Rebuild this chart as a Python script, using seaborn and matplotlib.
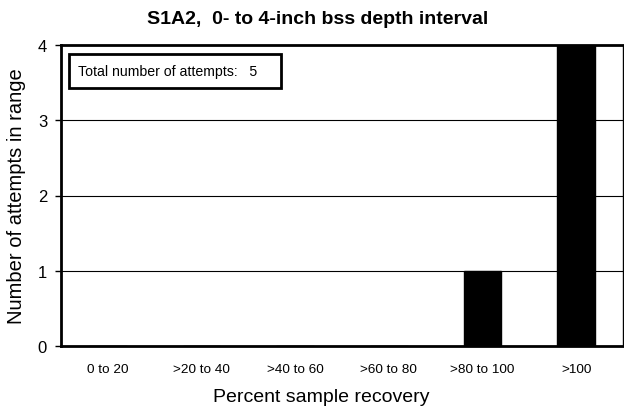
import matplotlib
matplotlib.use("Agg")
import matplotlib.pyplot as plt
from matplotlib.patches import Rectangle
import seaborn as sns
import pandas as pd
import numpy as np

categories = ["0 to 20", ">20 to 40", ">40 to 60", ">60 to 80", ">80 to 100", ">100"]
counts = [0, 0, 0, 0, 1, 4]
title = "S1A2,  0- to 4-inch bss depth interval"
total_text = "Total number of attempts:   5"

sns.set_style("white")
plt.rcParams['font.family'] = ['Liberation Sans', 'DejaVu Sans']
plt.rcParams['text.color'] = 'black'
plt.rcParams['axes.labelcolor'] = 'black'
plt.rcParams['xtick.color'] = 'black'
plt.rcParams['ytick.color'] = 'black'

df = pd.DataFrame({"cat": categories, "n": counts})

W, H = 624, 414
fig = plt.figure(figsize=(6.24, 4.14), dpi=100)
ax = fig.add_axes([61/W, 67/H, (623-61)/W, (347-46)/H])

for yv in [1, 2, 3]:
    ax.axhline(yv, color="black", lw=0.8, zorder=0)

sns.barplot(data=df, x="cat", y="n", color="black", width=0.4, saturation=1, ax=ax, zorder=2)
for p in ax.patches:
    p.set_edgecolor("black")

ax.set_xlim(-0.5, 5.5)
ax.set_ylim(0, 4)
ax.set_yticks([0, 1, 2, 3, 4])
ax.set_yticklabels(["0", "1", "2", "3", "4"], fontsize=12)
ax.set_xticks(range(len(categories)))
ax.set_xticklabels(categories, fontsize=9.7)
ax.tick_params(axis="x", which="major", length=0, pad=12)
ax.set_xticks(np.arange(-0.5, 5.6, 1.0), minor=True)
ax.tick_params(axis="x", which="minor", length=5, width=1, direction="inout", color="black")
ax.tick_params(axis="y", which="major", length=4, width=1, direction="out", color="black", left=True, pad=6)

ax.set_xlabel("Percent sample recovery", fontsize=14, color="black")
ax.xaxis.set_label_coords((321 - 61) / 562, -0.14)
ax.set_ylabel("Number of attempts in range", fontsize=14.5, color="black")
ax.yaxis.set_label_coords((26 - 61) / 562, 0.5)
fig.text(318 / W, 1 - 20 / H, title, fontsize=14, fontweight="bold", ha="center", va="center", color="black")

for side in ["left", "bottom", "top"]:
    ax.spines[side].set_linewidth(2)
    ax.spines[side].set_color("black")
ax.spines["right"].set_linewidth(1)
ax.spines["right"].set_color("black")

fig.add_artist(Rectangle((69 / W, 1 - 89 / H), (281 - 69) / W, (89 - 55) / H,
                         transform=fig.transFigure, facecolor="white", edgecolor="black",
                         linewidth=2, zorder=5))
fig.text(78 / W, 1 - 72 / H, total_text, fontsize=10.2, ha="left", va="center", zorder=6, color="black")

fig.savefig("out.png", dpi=100)
